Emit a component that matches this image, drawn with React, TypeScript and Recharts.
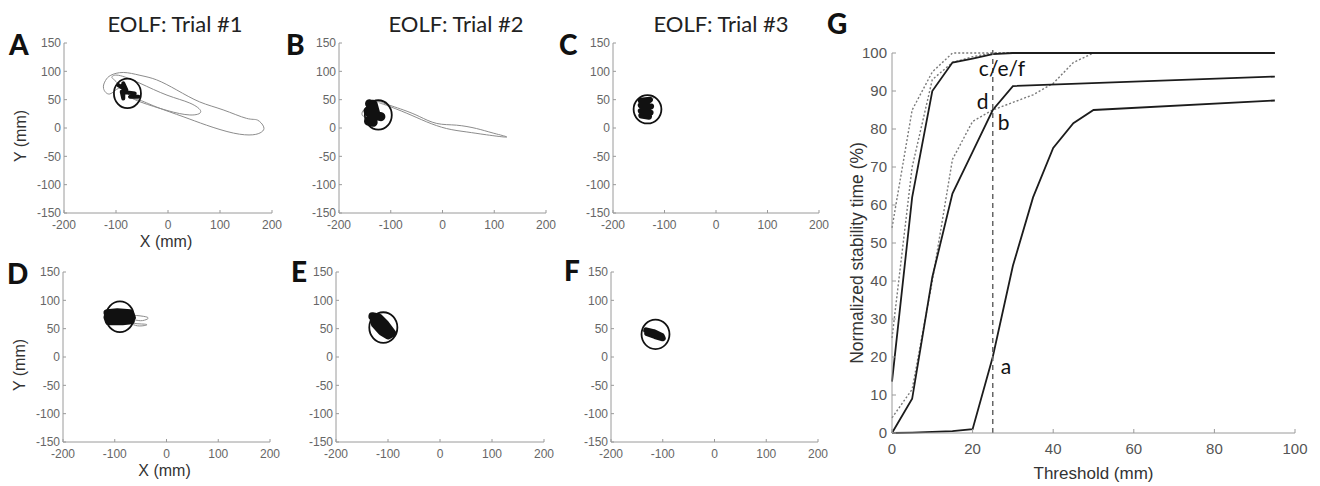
import React from "react";
import {
  ScatterChart,
  Scatter,
  XAxis,
  YAxis,
  LineChart,
  Line,
  ReferenceLine,
  ReferenceDot,
} from "recharts";

// ---- trajectory panels (A-F), values in mm ----
const X_TICKS = [-200, -100, 0, 100, 200];
const Y_TICKS = [-150, -100, -50, 0, 50, 100, 150];

const pathA = [
  [-80, 62], [-95, 70], [-112, 60], [-124, 70], [-120, 84], [-110, 93], [-86, 98],
  [-54, 93], [-22, 85], [17, 67], [61, 46], [106, 32], [151, 17], [172, 14],
  [184, 2], [180, -7], [163, -12], [126, -9], [74, 5], [29, 20], [-22, 37],
  [-54, 49], [-72, 56], [-100, 82], [-108, 90], [-95, 93], [-54, 79], [-2, 58],
  [42, 44], [63, 29], [42, 23], [-2, 31], [-50, 45], [-75, 55],
];
const blobA = [[-96, 76], [-80, 67], [-86, 79], [-86, 52], [-89, 64], [-64, 61], [-73, 55], [-57, 55]];
const ringA = { x: -78, y: 61, rx: 26, ry: 26 };

const pathB = [
  [-125, 30], [-140, 38], [-155, 28], [-150, 22], [-135, 42], [-118, 46], [-114, 44],
  [-76, 32], [-44, 20], [-11, 8], [27, 5], [66, -1], [98, -9], [124, -16],
  [85, -12], [47, -7], [8, -1], [-31, 11], [-69, 26], [-108, 40], [-122, 44],
];
const blobB = [[-141, 43], [-134, 36], [-144, 30], [-136, 20], [-143, 12], [-134, 10], [-139, 26], [-131, 32], [-134, 42], [-128, 22], [-119, 20]];
const ringB = { x: -124, y: 23, rx: 26, ry: 26 };

const pathC = [[-128, 50], [-125, 58], [-121, 52]];
const blobC = [[-146, 48], [-128, 50], [-146, 40], [-126, 38], [-146, 30], [-127, 27], [-145, 22], [-130, 20]];
const ringC = { x: -133, y: 33, rx: 27, ry: 25 };

const pathD = [[-66, 74], [-40, 71], [-37, 67], [-50, 64], [-63, 65], [-66, 60], [-43, 58], [-40, 56], [-56, 55], [-70, 60]];
const blobD = [[-115, 78], [-95, 80], [-70, 78], [-66, 70], [-90, 68], [-115, 70], [-112, 62], [-85, 62], [-68, 64]];
const ringD = { x: -90, y: 71, rx: 27, ry: 27 };

const pathE: number[][] = [];
const blobE = [[-130, 72], [-118, 70], [-105, 58], [-92, 42], [-100, 38], [-112, 45], [-125, 58], [-128, 68], [-112, 62], [-100, 48]];
const ringE = { x: -109, y: 52, rx: 27, ry: 27 };

const pathF: number[][] = [];
const blobF = [[-132, 47], [-118, 44], [-102, 37], [-100, 33], [-115, 37], [-130, 42]];
const ringF = { x: -114, y: 40, rx: 27, ry: 26 };

// ---- panel G: normalized stability time (%) vs threshold (mm) ----
const G_X_TICKS = [0, 20, 40, 60, 80, 100];
const G_Y_TICKS = [0, 10, 20, 30, 40, 50, 60, 70, 80, 90, 100];

const thrA = [0, 5, 10, 15, 20, 25, 30, 35, 40, 45, 50, 95];
const valA = [0, 0.1, 0.3, 0.5, 1, 20, 44, 62, 75, 81.5, 85, 87.5];
const thrB = [0, 5, 10, 15, 20, 25, 30, 95];
const valB = [0, 9, 41, 63, 74, 85, 91.3, 93.8];
const thrC = [0, 5, 10, 15, 20, 25, 30, 95];
const valC = [13.5, 62, 90, 97.5, 98.5, 99.7, 100, 100];
const thrD = [0, 5, 10, 15, 20, 25, 30, 35, 40, 45, 50, 95];
const valD = [4, 11.5, 40, 72, 82, 85, 87, 89, 92, 97.5, 100, 100];
const thrE = [0, 5, 10, 15, 20, 25, 95];
const valE = [25, 70, 93, 97.5, 99, 100, 100];
const thrF = [0, 5, 10, 15, 95];
const valF = [54, 85, 95, 100, 100];

const CUTOFF = 25;
const notes = [
  { text: "c/e/f", x: 27.3, y: 95.8 },
  { text: "d", x: 22.5, y: 87.2 },
  { text: "b", x: 27.7, y: 81.7 },
  { text: "a", x: 28.3, y: 17.6 },
];

const toPts = (arr: number[][]) => arr.map(([x, y]) => ({ x, y }));
const zip = (xs: number[], ys: number[]) => xs.map((x, i) => ({ x, y: ys[i] }));

const AXIS = "#9a9a9a";
const TICK = { fill: "#666", fontSize: 12, fontFamily: "Liberation Sans" };
const noShape = () => <g />;

const ringShape = (sx: number, sy: number) => (p: any) => (
  <ellipse
    cx={p.cx}
    cy={p.cy}
    rx={p.payload.rx * sx}
    ry={p.payload.ry * sy}
    fill="none"
    stroke="#111"
    strokeWidth={1.8}
  />
);

const panels = [
  { id: "A", left: 64, top: 43, w: 208, h: 170, path: pathA, blob: blobA, ring: ringA, bw: 4, labels: true },
  { id: "B", left: 339, top: 43, w: 207, h: 170, path: pathB, blob: blobB, ring: ringB, bw: 9, labels: false },
  { id: "C", left: 613, top: 43, w: 206, h: 170, path: pathC, blob: blobC, ring: ringC, bw: 6, labels: false },
  { id: "D", left: 63, top: 272, w: 207, h: 170, path: pathD, blob: blobD, ring: ringD, bw: 7, labels: true },
  { id: "E", left: 336, top: 272, w: 208, h: 170, path: pathE, blob: blobE, ring: ringE, bw: 8, labels: false },
  { id: "F", left: 611, top: 272, w: 207, h: 170, path: pathF, blob: blobF, ring: ringF, bw: 6, labels: false },
];

function TrajPanel({ p }: { p: any }) {
  const ML = 60, MT = 8, MR = 12, XH = 40;
  const sx = p.w / 400;
  const sy = p.h / 300;
  return (
    <div style={{ position: "absolute", left: p.left - ML, top: p.top - MT }}>
      <ScatterChart
        width={p.w + ML + MR}
        height={p.h + MT + XH}
        margin={{ top: MT, right: MR, left: 0, bottom: 0 }}
      >
        <XAxis
          type="number"
          dataKey="x"
          domain={[-200, 200]}
          ticks={X_TICKS}
          interval={0}
          height={XH}
          axisLine={{ stroke: AXIS }}
          tickLine={{ stroke: AXIS }}
          tickSize={-3}
          tickMargin={10}
          tick={TICK}
          label={
            p.labels
              ? () => (
                  <text
                    x={ML + p.w / 2 - 2}
                    y={MT + p.h + 34}
                    textAnchor="middle"
                    fontSize={16}
                    fontFamily="Liberation Sans"
                    fill="#333"
                  >
                    X (mm)
                  </text>
                )
              : undefined
          }
        />
        <YAxis
          type="number"
          dataKey="y"
          domain={[-150, 150]}
          ticks={Y_TICKS}
          interval={0}
          width={ML}
          axisLine={{ stroke: AXIS }}
          tickLine={{ stroke: AXIS }}
          tickSize={-3}
          tickMargin={6}
          tick={TICK}
          label={
            p.labels
              ? () => (
                  <text
                    transform={`translate(16,${MT + p.h / 2 + 8}) rotate(-90)`}
                    dy="0.35em"
                    textAnchor="middle"
                    fontSize={16}
                    fontFamily="Liberation Sans"
                    fill="#333"
                  >
                    Y (mm)
                  </text>
                )
              : undefined
          }
        />
        {p.path.length > 0 && (
          <Scatter
            data={toPts(p.path)}
            line={{ stroke: "#8c8c8c", strokeWidth: 1 }}
            lineType="joint"
            lineJointType="natural"
            shape={noShape}
            isAnimationActive={false}
          />
        )}
        <Scatter
          data={toPts(p.blob)}
          line={{ stroke: "#111", strokeWidth: p.bw, strokeLinejoin: "round", strokeLinecap: "round" }}
          lineType="joint"
          lineJointType="linear"
          shape={noShape}
          isAnimationActive={false}
        />
        <Scatter data={[p.ring]} shape={ringShape(sx, sy)} isAnimationActive={false} />
      </ScatterChart>
    </div>
  );
}

function StabilityPanel() {
  const ML = 60, MT = 8, MR = 15, XH = 52;
  const W = 403, H = 380;
  const solid = { stroke: "#1c1c1c", strokeWidth: 1.8 };
  const dotted = { stroke: "#7a7a7a", strokeWidth: 1.4, strokeDasharray: "2 2" };
  return (
    <div style={{ position: "absolute", left: 892 - ML, top: 53 - MT }}>
      <LineChart width={W + ML + MR} height={H + MT + XH} margin={{ top: MT, right: MR, left: 0, bottom: 0 }}>
        <XAxis
          type="number"
          dataKey="x"
          domain={[0, 100]}
          ticks={G_X_TICKS}
          interval={0}
          height={XH}
          axisLine={{ stroke: AXIS }}
          tickLine={{ stroke: AXIS }}
          tickSize={-4}
          tickMargin={14}
          tick={{ fill: "#555", fontSize: 15, fontFamily: "Liberation Sans" }}
          label={() => (
            <text
              x={ML + W / 2}
              y={MT + H + 46}
              textAnchor="middle"
              fontSize={17}
              fontFamily="Liberation Sans"
              fill="#333"
            >
              Threshold (mm)
            </text>
          )}
        />
        <YAxis
          type="number"
          domain={[0, 100]}
          ticks={G_Y_TICKS}
          interval={0}
          width={ML}
          axisLine={{ stroke: AXIS }}
          tickLine={{ stroke: AXIS }}
          tickSize={-4}
          tickMargin={9}
          tick={{ fill: "#555", fontSize: 15, fontFamily: "Liberation Sans" }}
          label={() => (
            <text
              transform={`translate(25,${MT + H / 2 + 10}) rotate(-90)`}
              dy="0.35em"
              textAnchor="middle"
              fontSize={17.5}
              fontFamily="Liberation Sans"
              fill="#333"
            >
              Normalized stability time (%)
            </text>
          )}
        />
        <Line data={zip(thrF, valF)} dataKey="y" type="linear" dot={false} {...dotted} isAnimationActive={false} />
        <Line data={zip(thrE, valE)} dataKey="y" type="linear" dot={false} {...dotted} isAnimationActive={false} />
        <Line data={zip(thrD, valD)} dataKey="y" type="linear" dot={false} {...dotted} isAnimationActive={false} />
        <Line data={zip(thrC, valC)} dataKey="y" type="linear" dot={false} {...solid} isAnimationActive={false} />
        <Line data={zip(thrB, valB)} dataKey="y" type="linear" dot={false} {...solid} isAnimationActive={false} />
        <Line data={zip(thrA, valA)} dataKey="y" type="linear" dot={false} {...solid} isAnimationActive={false} />
        <ReferenceLine
          segment={[{ x: CUTOFF, y: 0 }, { x: CUTOFF, y: 101.5 }]}
          stroke="#666"
          strokeWidth={1.5}
          strokeDasharray="5 4"
          ifOverflow="visible"
        />
        {notes.map((n) => (
          <ReferenceDot
            key={n.text}
            x={n.x}
            y={n.y}
            r={0}
            fill="none"
            stroke="none"
            ifOverflow="visible"
            label={{ value: n.text, position: "center", fontSize: 21, fill: "#111", fontFamily: "Lato" }}
          />
        ))}
      </LineChart>
    </div>
  );
}

const titles = [
  { text: "EOLF: Trial #1", x: 175 },
  { text: "EOLF: Trial #2", x: 456 },
  { text: "EOLF: Trial #3", x: 721 },
];
const letters = [
  { text: "A", x: 9, y: 55 },
  { text: "B", x: 286, y: 55 },
  { text: "C", x: 559, y: 55 },
  { text: "D", x: 7, y: 284 },
  { text: "E", x: 291, y: 282 },
  { text: "F", x: 564, y: 281 },
  { text: "G", x: 827, y: 34 },
];

export default function App() {
  return (
    <div style={{ position: "absolute", left: 0, top: 0, width: 1320, height: 486, background: "#fff", overflow: "hidden" }}>
      {panels.map((p) => (
        <TrajPanel key={p.id} p={p} />
      ))}
      <StabilityPanel />
      <svg width={1320} height={486} style={{ position: "absolute", left: 0, top: 0, pointerEvents: "none" }}>
        {titles.map((t) => (
          <text key={t.text} x={t.x} y={32} textAnchor="middle" fontSize={22} fontFamily="Lato" fill="#222">
            {t.text}
          </text>
        ))}
        {letters.map((l) => (
          <text key={l.text} x={l.x} y={l.y} fontSize={28} fontWeight={900} fontFamily="Lato" fill="#111">
            {l.text}
          </text>
        ))}
      </svg>
    </div>
  );
}
